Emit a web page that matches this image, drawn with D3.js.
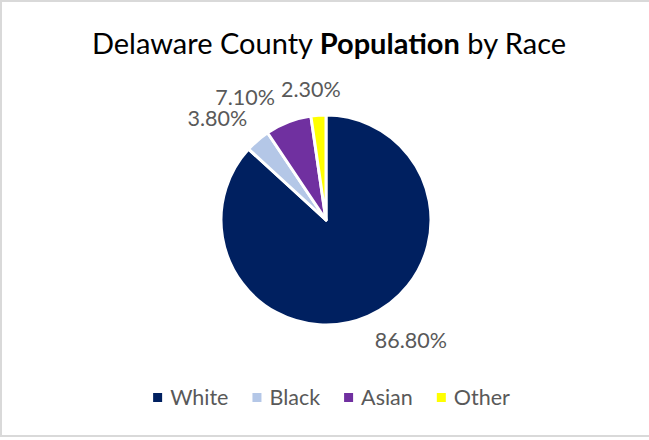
<!DOCTYPE html>
<html>
<head>
<meta charset="utf-8">
<script src="https://cdn.jsdelivr.net/npm/d3@7"></script>
<style>
  body { margin: 0; background: #fff; }
  text { font-family: Lato, "Open Sans", sans-serif; }
</style>
</head>
<body>
<svg id="chart" width="649" height="440"></svg>
<script>
// data
let races = ['White', 'Black', 'Asian', 'Other'];
let shares = [86.8, 3.8, 7.1, 2.3];
let colors = ['#002060', '#B4C7E7', '#7030A0', '#FFFF00'];

let W = 649, H = 440;
let cx = 326, cy = 220, r = 105;

let svg = d3.select('#chart');

// chart border
svg.append('rect')
  .attr('x', 1).attr('y', 1)
  .attr('width', W + 4).attr('height', 435)
  .attr('fill', '#fff')
  .attr('stroke', '#d9d9d9')
  .attr('stroke-width', 2);

// title
let title = svg.append('text')
  .attr('x', 329).attr('y', 54)
  .attr('text-anchor', 'middle')
  .attr('font-size', 29)
  .attr('fill', '#000');
title.append('tspan').text('Delaware County ');
title.append('tspan').attr('font-weight', 'bold').text('Population');
title.append('tspan').text(' by Race');

let data = races.map((name, i) => ({name: name, value: shares[i], color: colors[i]}));

let pie = d3.pie().sort(null).value(d => d.value);
let arc = d3.arc().innerRadius(0).outerRadius(r);
let arcs = pie(data);

let g = svg.append('g').attr('transform', `translate(${cx},${cy})`);

g.selectAll('path')
  .data(arcs)
  .join('path')
  .attr('d', arc)
  .attr('fill', d => d.data.color)
  .attr('stroke', '#fff')
  .attr('stroke-width', 3)
  .attr('stroke-linejoin', 'round');

// labels outside the slices: the label box touches a point just past the rim
let fs = 21.5;
let labels = g.selectAll('text.lbl')
  .data(arcs)
  .join('text')
  .attr('class', 'lbl')
  .attr('font-size', fs)
  .attr('fill', '#595959')
  .attr('text-anchor', 'middle')
  .text(d => d.data.value.toFixed(2) + '%');

let clamp = v => Math.max(-1, Math.min(1, v));
let boxes = [];
labels.each(function(d){
  let w = this.getBBox().width, h = 20;
  let a = (d.startAngle + d.endAngle) / 2;
  let R = r + 16;
  let px = Math.sin(a) * R, py = -Math.cos(a) * R;
  boxes.push({
    node: this, w: w, h: h,
    x: px + clamp(3 * Math.sin(a)) * w / 2,
    y: py + clamp(-3 * Math.cos(a)) * h / 2
  });
});

// walk back from the last slice and push overlapping labels to the left
let order = boxes.slice(1).reverse();
for (let k = 1; k < order.length; k++) {
  let prev = order[k - 1], cur = order[k];
  if (Math.abs(cur.y - prev.y) < cur.h && cur.x + cur.w / 2 > prev.x - prev.w / 2 - 6) {
    cur.x = prev.x - prev.w / 2 - 6 - cur.w / 2;
  }
}
boxes.forEach(b => d3.select(b.node).attr('x', b.x).attr('y', b.y + 0.36 * fs));

// legend, centred as a row
let legend = svg.append('g');
let items = legend.selectAll('g')
  .data(data)
  .join('g');
items.append('rect')
  .attr('x', 0).attr('y', 393)
  .attr('width', 9).attr('height', 9)
  .attr('fill', d => d.color);
items.append('text')
  .attr('x', 17).attr('y', 405)
  .attr('font-size', 21.5)
  .attr('fill', '#595959')
  .text(d => d.name);

let pos = 0, offs = [];
items.each(function(){
  offs.push(pos);
  pos += 17 + d3.select(this).select('text').node().getComputedTextLength() + 24;
});
let total = pos - 24;
let start = 331.5 - total / 2;
items.attr('transform', (d, i) => `translate(${start + offs[i]},0)`);
</script>
</body>
</html>
